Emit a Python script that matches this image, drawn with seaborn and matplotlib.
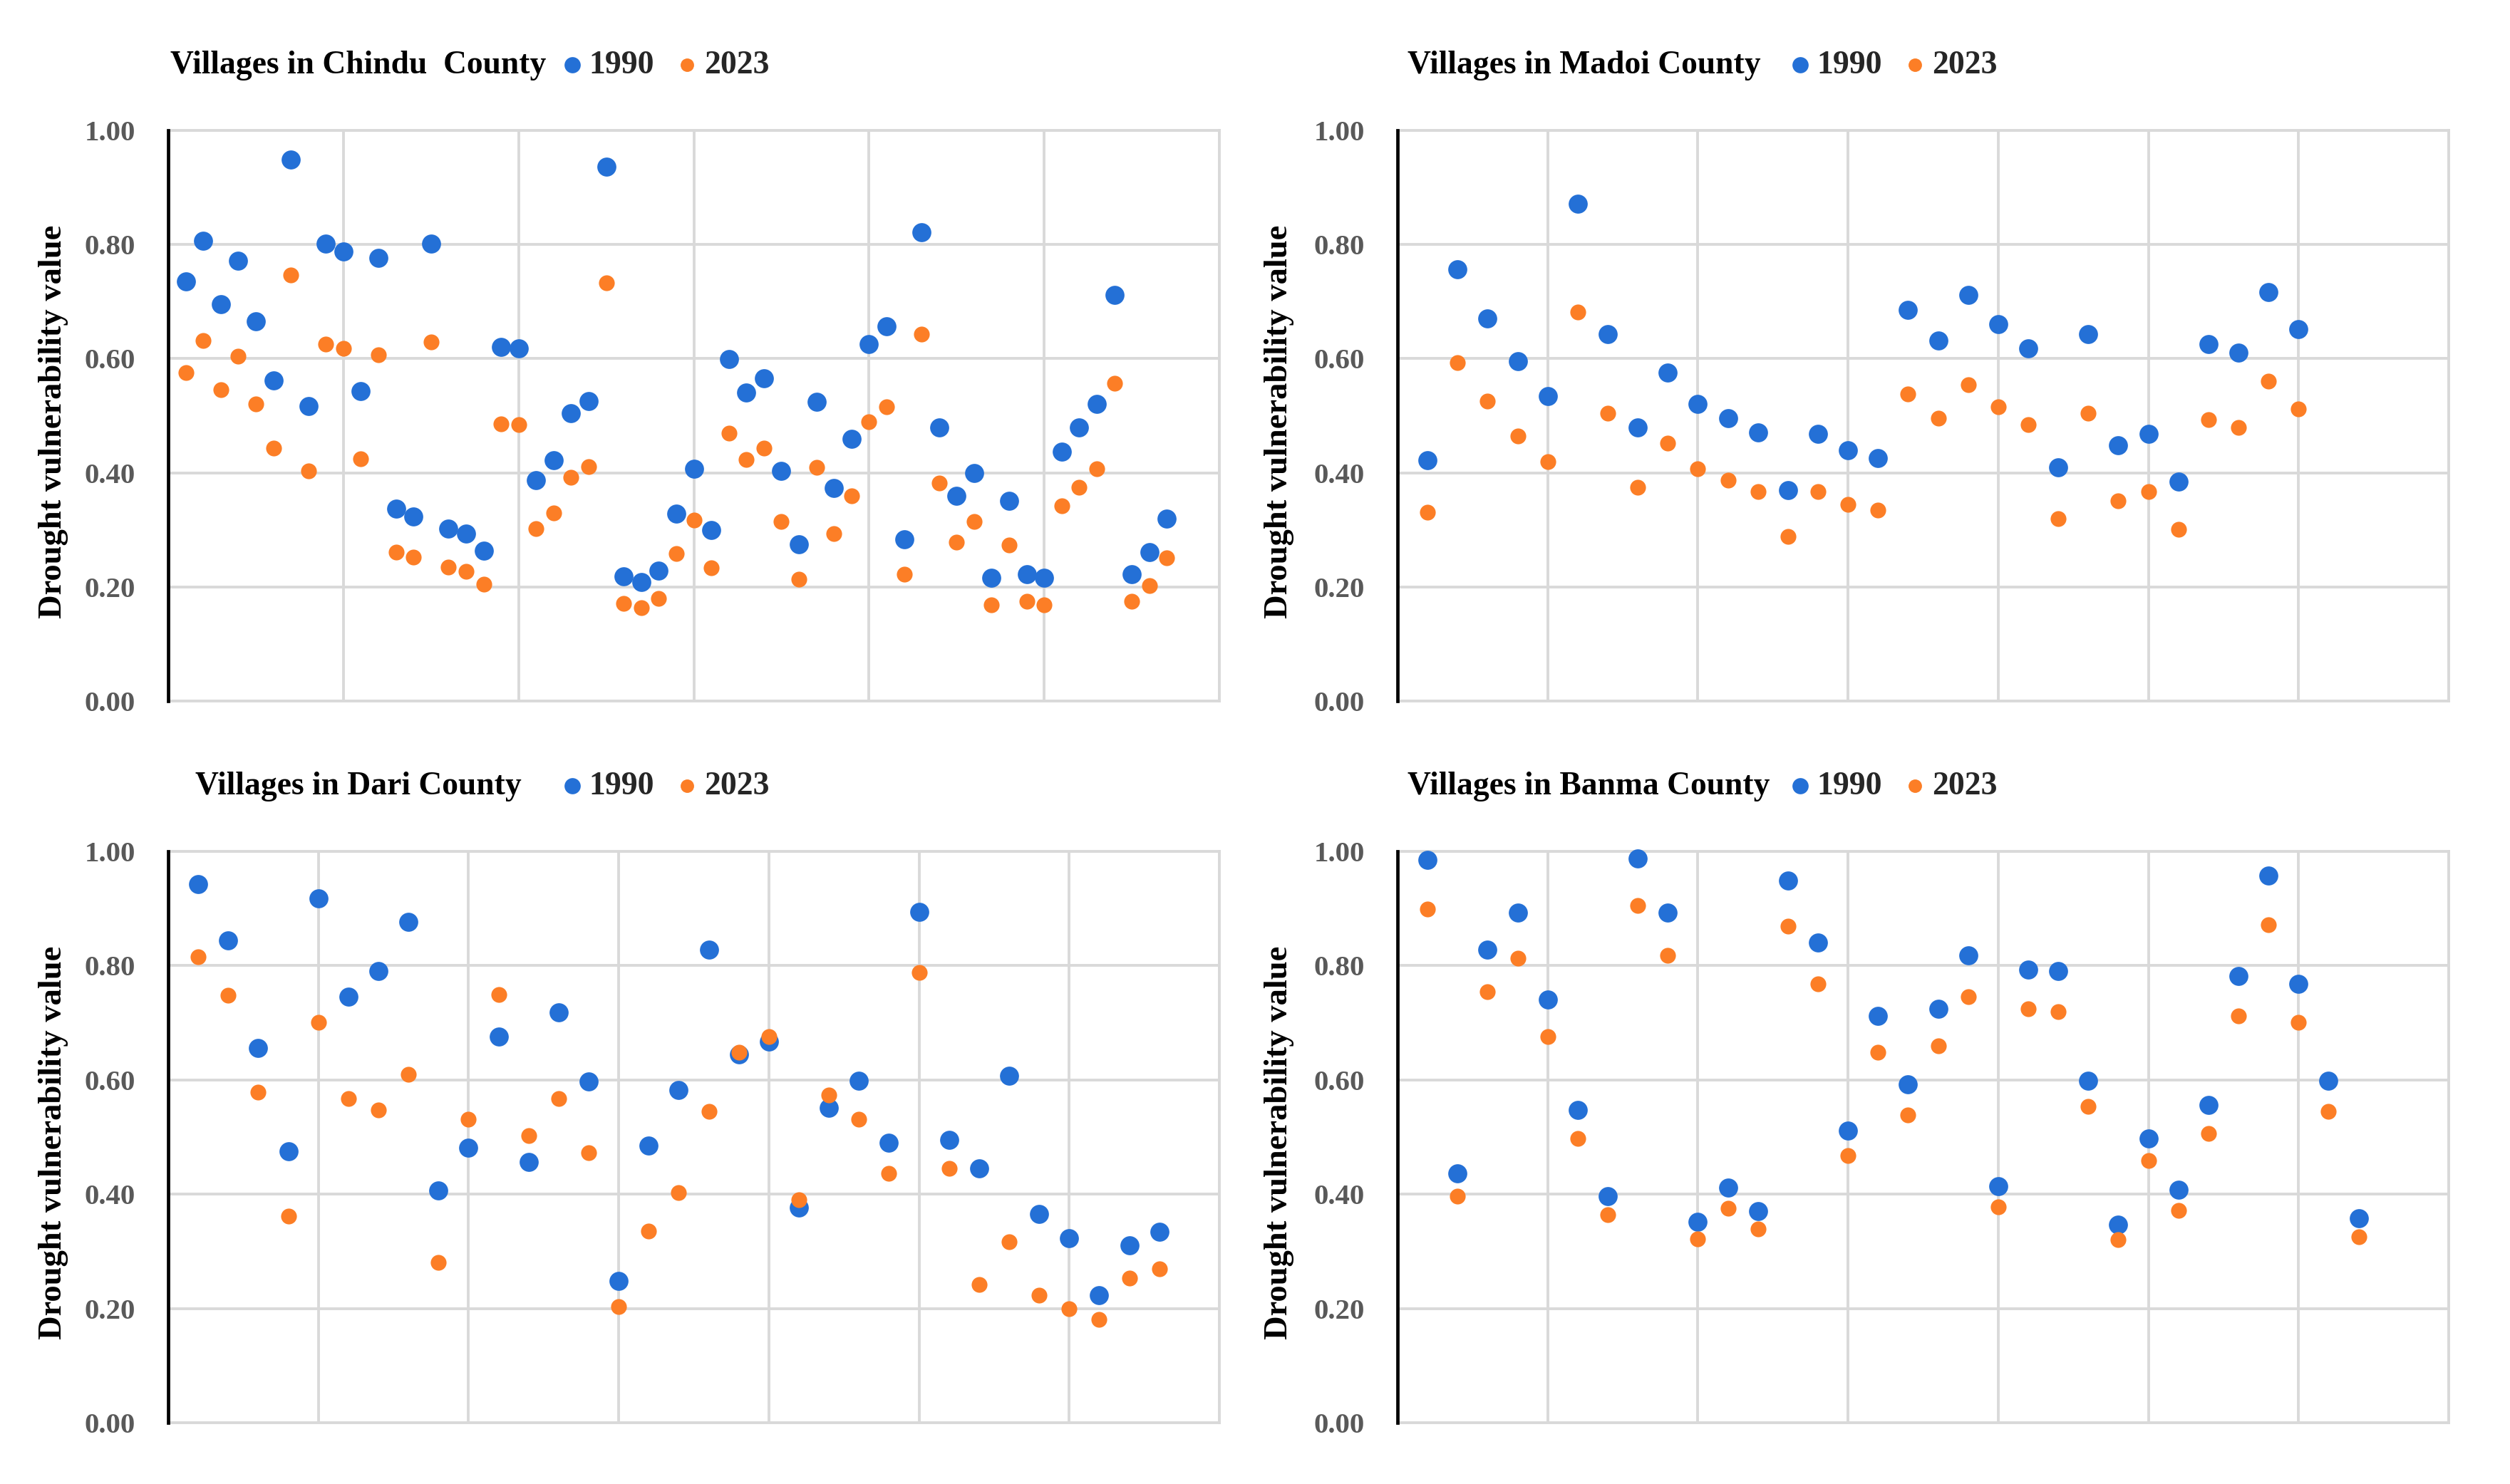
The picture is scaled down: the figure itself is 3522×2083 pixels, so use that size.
import numpy as np
import pandas as pd
import matplotlib
matplotlib.use("Agg")
import matplotlib.pyplot as plt
import seaborn as sns

# drought vulnerability per village
chindu_1990 = [0.735, 0.807, 0.696, 0.771, 0.666, 0.562, 0.949, 0.517, 0.802, 0.788,
               0.543, 0.777, 0.337, 0.323, 0.802, 0.302, 0.293, 0.264, 0.621, 0.618,
               0.387, 0.422, 0.504, 0.526, 0.936, 0.219, 0.208, 0.228, 0.328, 0.407,
               0.300, 0.599, 0.541, 0.566, 0.403, 0.275, 0.524, 0.373, 0.459, 0.626,
               0.657, 0.284, 0.822, 0.479, 0.359, 0.400, 0.216, 0.351, 0.222, 0.216,
               0.437, 0.479, 0.520, 0.711, 0.222, 0.261, 0.320]
chindu_2023 = [0.576, 0.632, 0.546, 0.604, 0.521, 0.443, 0.746, 0.403, 0.625, 0.618,
               0.425, 0.607, 0.261, 0.252, 0.629, 0.235, 0.227, 0.205, 0.486, 0.484,
               0.302, 0.330, 0.392, 0.411, 0.733, 0.171, 0.163, 0.180, 0.258, 0.317,
               0.234, 0.470, 0.423, 0.443, 0.315, 0.214, 0.409, 0.293, 0.359, 0.489,
               0.515, 0.222, 0.643, 0.382, 0.278, 0.315, 0.169, 0.273, 0.175, 0.169,
               0.342, 0.375, 0.407, 0.557, 0.175, 0.202, 0.251]

madoi_1990 = [0.422, 0.757, 0.670, 0.596, 0.534, 0.872, 0.643, 0.480, 0.576, 0.521,
              0.496, 0.471, 0.370, 0.468, 0.439, 0.426, 0.685, 0.632, 0.711, 0.661,
              0.618, 0.410, 0.643, 0.448, 0.468, 0.384, 0.626, 0.610, 0.716, 0.652]
madoi_2023 = [0.331, 0.593, 0.526, 0.465, 0.420, 0.682, 0.504, 0.375, 0.452, 0.407,
              0.387, 0.367, 0.289, 0.367, 0.344, 0.334, 0.538, 0.496, 0.554, 0.516,
              0.484, 0.320, 0.504, 0.351, 0.367, 0.301, 0.493, 0.479, 0.560, 0.512]

dari_1990 = [0.943, 0.844, 0.656, 0.475, 0.918, 0.746, 0.791, 0.877, 0.406, 0.481,
             0.676, 0.456, 0.718, 0.597, 0.248, 0.485, 0.582, 0.828, 0.645, 0.667,
             0.377, 0.551, 0.598, 0.490, 0.894, 0.495, 0.445, 0.607, 0.365, 0.323,
             0.223, 0.311, 0.334]
dari_2023 = [0.816, 0.748, 0.578, 0.362, 0.701, 0.567, 0.548, 0.610, 0.281, 0.531,
             0.749, 0.503, 0.567, 0.473, 0.203, 0.336, 0.403, 0.545, 0.649, 0.676,
             0.390, 0.573, 0.531, 0.437, 0.788, 0.445, 0.242, 0.317, 0.223, 0.200,
             0.181, 0.253, 0.269]

banma_1990 = [0.985, 0.437, 0.828, 0.893, 0.741, 0.548, 0.397, 0.988, 0.893, 0.351,
              0.412, 0.370, 0.949, 0.840, 0.511, 0.712, 0.592, 0.724, 0.818, 0.414,
              0.793, 0.791, 0.598, 0.347, 0.497, 0.408, 0.556, 0.782, 0.957, 0.768,
              0.598, 0.358]
banma_2023 = [0.899, 0.397, 0.754, 0.813, 0.676, 0.498, 0.364, 0.905, 0.818, 0.322,
              0.375, 0.339, 0.869, 0.768, 0.467, 0.649, 0.539, 0.659, 0.746, 0.378,
              0.724, 0.720, 0.554, 0.320, 0.459, 0.372, 0.506, 0.712, 0.871, 0.701,
              0.545, 0.326]

titles = ["Villages in Chindu  County", "Villages in Madoi County",
          "Villages in Dari County", "Villages in Banma County"]
years = ["1990", "2023"]

sns.set_theme(style="white")
plt.rcParams['font.family'] = ['Liberation Serif', 'DejaVu Serif']
plt.rcParams['font.weight'] = 'bold'

W, H = 3522, 2083
fig = plt.figure(figsize=(W / 100, H / 100), dpi=100)

blue = '#2470D6'
orange = '#FC7E26'
grid_c = '#D9D9D9'

# (values 1990, values 2023, x max, x step, axes box px, title x px, row y px,
#  legend x px, y-label x in axes fraction)
panels = [
    (chindu_1990, chindu_2023, 60, 10, (236, 183, 1711, 984), 239, 92, 789, -0.095),
    (madoi_1990, madoi_2023, 35, 5, (1961, 183, 3436, 984), 1975, 92, 2512, -0.098),
    (dari_1990, dari_2023, 35, 5, (236, 1195, 1711, 1997), 274, 1104, 789, -0.095),
    (banma_1990, banma_2023, 35, 5, (1961, 1195, 3436, 1997), 1975, 1104, 2512, -0.098),
]

for (v90, v23, xmax, xstep, box, tx, ty, lx, ylx), title in zip(panels, titles):
    x0, y0, x1, y1 = box
    ax = fig.add_axes([x0 / W, 1 - y1 / H, (x1 - x0) / W, (y1 - y0) / H])
    df = pd.DataFrame({'village': np.arange(1, len(v90) + 1),
                       years[0]: v90, years[1]: v23})

    sns.scatterplot(data=df, x='village', y=years[0], ax=ax, color=blue, s=370,
                    linewidth=0, label=years[0], clip_on=False, zorder=3)
    sns.scatterplot(data=df, x='village', y=years[1], ax=ax, color=orange, s=255,
                    linewidth=0, label=years[1], clip_on=False, zorder=4)

    ax.set_xlim(0, xmax)
    ax.set_ylim(0, 1)
    ax.set_xticks(np.arange(0, xmax + 1, xstep))
    ax.set_xticklabels([])
    ax.set_yticks(np.arange(0, 1.01, 0.2))
    ax.set_yticklabels([f'{t:.2f}' for t in np.arange(0, 1.01, 0.2)])
    ax.tick_params(axis='x', length=0)
    ax.tick_params(axis='y', direction='in', length=8, width=2.2, color='black',
                   pad=33, labelsize=29.5, labelcolor='#595959')
    for lab in ax.get_yticklabels():
        lab.set_fontweight('bold')

    ax.grid(True, color=grid_c, linewidth=2.8)
    ax.set_axisbelow(True)
    for side in ['top', 'right', 'bottom']:
        ax.spines[side].set_color(grid_c)
        ax.spines[side].set_linewidth(2.8)
    ax.spines['left'].set_color('black')
    ax.spines['left'].set_linewidth(3.4)
    ax.spines['left'].set_zorder(5)

    ax.set_xlabel('')
    ax.set_ylabel('Drought vulnerability value', fontsize=33.5, fontweight='bold',
                  color='black')
    ax.yaxis.set_label_coords(ylx, 0.49)

    fig.text(tx / W, 1 - ty / H, title, fontsize=32.8, fontweight='bold',
             ha='left', va='center', color='black')
    ax.legend(loc='center left', bbox_to_anchor=(lx / W, 1 - ty / H),
              bbox_transform=fig.transFigure, ncol=2, frameon=False,
              borderpad=0, borderaxespad=0, handlelength=0.6, handletextpad=0.22,
              columnspacing=0.7, markerscale=0.85,
              prop={'family': 'Liberation Serif', 'weight': 'bold', 'size': 33})

fig.savefig('out.png', dpi=100, facecolor='white')
